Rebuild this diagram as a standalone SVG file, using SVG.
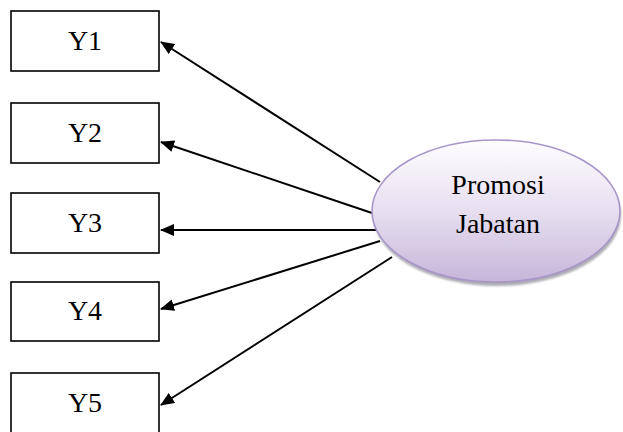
<svg xmlns="http://www.w3.org/2000/svg" width="623" height="432" viewBox="0 0 623 432">
  <defs>
    <linearGradient id="latentFill" x1="0" y1="0" x2="0" y2="1">
      <stop offset="0" stop-color="#fefdff"/>
      <stop offset="0.5" stop-color="#e7dff0"/>
      <stop offset="1" stop-color="#c6b6da"/>
    </linearGradient>
    <filter id="softShadow" x="-10%" y="-10%" width="130%" height="130%">
      <feGaussianBlur stdDeviation="1.2"/>
    </filter>
    <marker id="arrowHead" viewBox="0 0 14 12" refX="13" refY="6" markerWidth="14" markerHeight="12" markerUnits="userSpaceOnUse" orient="auto">
      <path d="M0,0 L14,6 L0,12 z" fill="#000"/>
    </marker>
  </defs>
  <style>
    .box { fill: #fff; stroke: #000; stroke-width: 1.6; }
    .label { font-family: "Liberation Serif", "Times New Roman", serif; font-size: 28px; fill: #000; text-anchor: middle; }
    .link { stroke: #000; stroke-width: 2; fill: none; marker-end: url(#arrowHead); }
  </style>

  <rect width="623" height="432" fill="#fff"/>

  <g id="connectors">
    <line class="link" x1="380" y1="182" x2="161" y2="42"/>
    <line class="link" x1="372" y1="213" x2="161" y2="142"/>
    <line class="link" x1="382" y1="230" x2="161" y2="230"/>
    <line class="link" x1="380" y1="241" x2="161" y2="309"/>
    <line class="link" x1="392" y1="257" x2="161" y2="405"/>
  </g>

  <g id="Y1">
    <rect class="box" x="11" y="11" width="148" height="60"/>
    <text class="label" x="85" y="50">Y1</text>
  </g>
  <g id="Y2">
    <rect class="box" x="11" y="103" width="148" height="60"/>
    <text class="label" x="85" y="142">Y2</text>
  </g>
  <g id="Y3">
    <rect class="box" x="11" y="193" width="148" height="60"/>
    <text class="label" x="85" y="232">Y3</text>
  </g>
  <g id="Y4">
    <rect class="box" x="11" y="282" width="148" height="59"/>
    <text class="label" x="85" y="320">Y4</text>
  </g>
  <g id="Y5">
    <rect class="box" x="11" y="373" width="148" height="60"/>
    <text class="label" x="85" y="412">Y5</text>
  </g>

  <g id="promosi-jabatan">
    <ellipse cx="497" cy="215" rx="124" ry="71" fill="#8a8894" opacity="0.7" filter="url(#softShadow)"/>
    <ellipse cx="496" cy="211" rx="124" ry="71" fill="url(#latentFill)" stroke="#a896c8" stroke-width="1.6"/>
    <text class="label" x="498" y="194">Promosi</text>
    <text class="label" x="498" y="233">Jabatan</text>
  </g>
</svg>
